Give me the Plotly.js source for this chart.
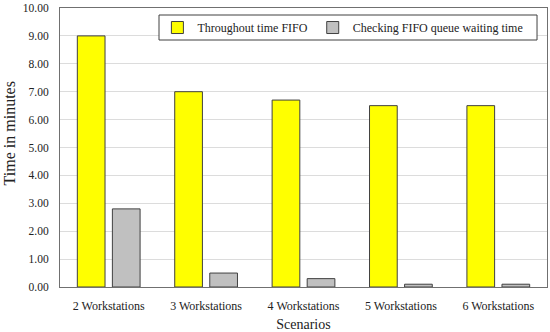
<!DOCTYPE html>
<html>
<head>
<meta charset="utf-8">
<script src="https://cdn.plot.ly/plotly-3.0.1.min.js"></script>
<style>html,body{margin:0;padding:0;background:#fff;}#chart{width:550px;height:332px;}</style>
</head>
<body>
<div id="chart"></div>
<script>
var scenarios = ["2 Workstations", "3 Workstations", "4 Workstations", "5 Workstations", "6 Workstations"];
var throughputTime = [9.0, 7.0, 6.7, 6.5, 6.5];
var queueWaitingTime = [2.8, 0.5, 0.3, 0.1, 0.1];
var yTickValues = [0, 1, 2, 3, 4, 5, 6, 7, 8, 9, 10];
var yTickLabels = ["0.00", "1.00", "2.00", "3.00", "4.00", "5.00", "6.00", "7.00", "8.00", "9.00", "10.00"];

var FONT = "'Liberation Serif', 'DejaVu Serif', serif";

var traces = [
  {
    type: "bar",
    name: "Throughout time FIFO",
    x: scenarios,
    y: throughputTime,
    marker: {color: "#FFFF00", line: {color: "#404040", width: 1}},
    hoverinfo: "x+y"
  },
  {
    type: "bar",
    name: "Checking FIFO queue waiting time",
    x: scenarios,
    y: queueWaitingTime,
    marker: {color: "#C0C0C0", line: {color: "#404040", width: 1}},
    hoverinfo: "x+y"
  }
];

var layout = {
  width: 550,
  height: 332,
  margin: {l: 60, r: 3, t: 8, b: 45},
  paper_bgcolor: "#ffffff",
  plot_bgcolor: "#ffffff",
  font: {family: FONT, color: "#222222", size: 12},
  barmode: "group",
  bargap: 0.28,
  bargroupgap: 0.21,
  showlegend: true,
  legend: {
    orientation: "h",
    x: 0.20, xanchor: "left",
    y: 0.930, yanchor: "middle",
    bgcolor: "rgba(0,0,0,0)",
    borderwidth: 0,
    font: {family: FONT, size: 12, color: "#222222"},
    itemwidth: 30,
    traceorder: "normal"
  },
  xaxis: {
    type: "category",
    showgrid: false,
    showline: true,
    linecolor: "#707070",
    linewidth: 1,
    mirror: true,
    ticks: "",
    ticklabelstandoff: 8,
    tickfont: {family: FONT, size: 12, color: "#222222"},
    title: {text: "Scenarios", font: {family: FONT, size: 14, color: "#222222"}, standoff: 6},
    fixedrange: true
  },
  yaxis: {
    range: [0, 10],
    tickvals: yTickValues,
    ticktext: yTickLabels,
    showgrid: true,
    gridcolor: "#dcdcdc",
    gridwidth: 1,
    zeroline: false,
    showline: true,
    linecolor: "#707070",
    linewidth: 1,
    mirror: true,
    ticks: "",
    ticklabelstandoff: 8,
    tickfont: {family: FONT, size: 11.5, color: "#222222"},
    fixedrange: true
  },
  annotations: [
    {
      text: "Time in minutes",
      xref: "paper", yref: "paper",
      x: -0.103, y: 0.55,
      xanchor: "center", yanchor: "middle",
      textangle: -90,
      showarrow: false,
      font: {family: FONT, size: 16, color: "#222222"}
    }
  ],
  shapes: [
    {
      type: "rect",
      xref: "paper", yref: "paper",
      x0: 0.2033, x1: 0.9795, y0: 0.8853, y1: 0.9749,
      fillcolor: "#ffffff",
      line: {color: "#404040", width: 1},
      layer: "above"
    }
  ]
};

Plotly.newPlot("chart", traces, layout, {displayModeBar: false, staticPlot: true});
</script>
</body>
</html>
